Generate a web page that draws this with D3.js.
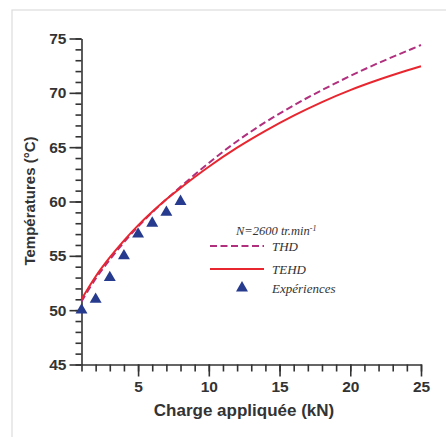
<!DOCTYPE html>
<html>
<head>
<meta charset="utf-8">
<script src="https://cdn.jsdelivr.net/npm/d3@7"></script>
<style>
  body { margin: 0; background: #fff; }
  svg { display: block; }
</style>
</head>
<body>
<main></main>
<script>
// values
const loads = [1, 2, 3, 4, 5, 6, 7, 8, 10, 12, 14, 16, 18, 20, 22, 24, 25];
const thd  = [50.8, 52.9, 54.65, 56.25, 57.7, 59.0, 60.2, 61.35, 63.55, 65.55, 67.3, 68.85, 70.25, 71.55, 72.75, 73.85, 74.4];
const tehd = [51.0, 53.1, 54.85, 56.4, 57.8, 59.05, 60.2, 61.25, 63.2, 64.95, 66.5, 67.9, 69.15, 70.25, 71.2, 72.05, 72.45];
const expLoads = [1, 2, 3, 4, 5, 6, 7, 8];
const expTemps = [50, 51, 53, 55, 57, 58, 59, 60];
const xTicks = [5, 10, 15, 20, 25];
const yTicks = [45, 50, 55, 60, 65, 70, 75];

const w = 446, h = 437;
const textCol = "#333";

let svg = d3.select("main").append("svg")
  .attr("width", w)
  .attr("height", h);

// light frame from the source figure
svg.append("rect")
  .attr("x", 12).attr("y", 10)
  .attr("width", 500).attr("height", 500)
  .attr("fill", "none")
  .attr("stroke", "#dcdcdc")
  .attr("stroke-width", 1.2);

let x = d3.scaleLinear().domain([1, 25]).range([81.5, 421]);
let y = d3.scaleLinear().domain([45, 75]).range([364.5, 38.5]);

let styleAxis = g => {
  g.selectAll("path, line").attr("stroke", textCol).attr("stroke-width", 1.6);
  g.selectAll("text")
    .attr("fill", textCol)
    .attr("font-family", "'Liberation Sans', Arial, sans-serif")
    .attr("font-weight", "bold")
    .attr("font-size", 15.5);
};

// minor ticks
svg.append("g")
  .attr("transform", `translate(0,${y(45)})`)
  .call(d3.axisBottom(x).tickValues(d3.range(1, 26)).tickSize(7).tickSizeOuter(0).tickFormat(""))
  .call(styleAxis);
svg.append("g")
  .attr("transform", `translate(${x(1)},0)`)
  .call(d3.axisLeft(y).tickValues(d3.range(45, 76)).tickSize(6).tickSizeOuter(0).tickFormat(""))
  .call(styleAxis);

// major ticks
svg.append("g")
  .attr("transform", `translate(0,${y(45)})`)
  .call(d3.axisBottom(x).tickValues(xTicks).tickSize(12).tickPadding(4).tickSizeOuter(0))
  .call(styleAxis)
  .call(g => g.select(".domain").remove());
svg.append("g")
  .attr("transform", `translate(${x(1)},0)`)
  .call(d3.axisLeft(y).tickValues(yTicks).tickSize(12).tickPadding(3).tickSizeOuter(0))
  .call(styleAxis)
  .call(g => g.select(".domain").remove());

// axis titles
svg.append("text")
  .attr("x", 244).attr("y", 416)
  .attr("text-anchor", "middle")
  .attr("font-family", "'Liberation Sans', Arial, sans-serif")
  .attr("font-weight", "bold")
  .attr("font-size", 17)
  .attr("fill", textCol)
  .text("Charge appliquée (kN)");

svg.append("text")
  .attr("transform", "translate(35,201) rotate(-90)")
  .attr("text-anchor", "middle")
  .attr("font-family", "'Liberation Sans', Arial, sans-serif")
  .attr("font-weight", "bold")
  .attr("font-size", 15)
  .attr("fill", textCol)
  .text("Températures (°C)");

// curves
let line = d3.line()
  .x(d => x(d[0]))
  .y(d => y(d[1]))
  .curve(d3.curveCatmullRom.alpha(0.5));

svg.append("path")
  .datum(loads.map((l, i) => [l, thd[i]]))
  .attr("d", line)
  .attr("fill", "none")
  .attr("stroke", "#b0307e")
  .attr("stroke-width", 2)
  .attr("stroke-dasharray", "7,3.5");

svg.append("path")
  .datum(loads.map((l, i) => [l, tehd[i]]))
  .attr("d", line)
  .attr("fill", "none")
  .attr("stroke", "#e8262f")
  .attr("stroke-width", 2);

// experiments
let tri = d3.symbol().type(d3.symbolTriangle).size(62);
svg.append("g")
  .selectAll("path")
  .data(expLoads.map((l, i) => [l, expTemps[i]]))
  .join("path")
    .attr("transform", d => `translate(${x(d[0])},${y(d[1])})`)
    .attr("d", tri)
    .attr("fill", "#263a8e");

// legend
let legend = svg.append("g")
  .attr("font-family", "'Liberation Serif', 'Times New Roman', serif")
  .attr("font-style", "italic")
  .attr("font-size", 13)
  .attr("fill", textCol);

let title = legend.append("text").attr("x", 236).attr("y", 235).attr("font-size", 12.5);
title.append("tspan").text("N=2600 tr.min");
title.append("tspan").attr("font-size", 8).attr("dy", -4).text("-1");

legend.append("line")
  .attr("x1", 210).attr("x2", 264).attr("y1", 246).attr("y2", 246)
  .attr("stroke", "#b0307e").attr("stroke-width", 2)
  .attr("stroke-dasharray", "7,3.5");
legend.append("text").attr("x", 272).attr("y", 251).text("THD");

legend.append("line")
  .attr("x1", 210).attr("x2", 264).attr("y1", 269).attr("y2", 269)
  .attr("stroke", "#e8262f").attr("stroke-width", 2);
legend.append("text").attr("x", 272).attr("y", 274).text("TEHD");

legend.append("path")
  .attr("transform", "translate(242,288)")
  .attr("d", tri)
  .attr("fill", "#263a8e");
legend.append("text").attr("x", 272).attr("y", 293).text("Expériences");
</script>
</body>
</html>
